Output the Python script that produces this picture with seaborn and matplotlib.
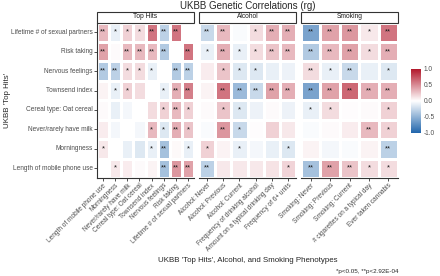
import numpy as np
import pandas as pd
import matplotlib
matplotlib.use("Agg")
import matplotlib.pyplot as plt
import seaborn as sns
from matplotlib.colors import LinearSegmentedColormap
from matplotlib.patches import Rectangle

nan = np.nan

# Filas: fenotipos "Top Hits"
rows = ["Lifetime # of sexual partners", "Risk taking", "Nervous feelings",
        "Townsend index", "Cereal type: Oat cereal", "Never/rarely have milk",
        "Morningness", "Length of mobile phone use"]

tophits_cols = ["Length of mobile phone use", "Morningness", "Never/rarely have milk",
                "Cereal type: Oat cereal", "Townsend index", "Nervous feelings",
                "Risk taking", "Lifetime # of sexual partners"]
alcohol_cols = ["Alcohol: Never", "Alcohol: Previous", "Alcohol: Current",
                "Frequency of drinking alcohol", "Amount on a typical drinking day",
                "Frequency of 6+ units"]
smoking_cols = ["Smoking: Never", "Smoking: Previous", "Smoking: Current",
                "# cigarettes on a typical day", "Ever taken cannabis"]

tophits_rg = [
    [0.30, -0.10, 0.20, 0.15, 0.60, -0.30, 0.60, nan],
    [0.40, 0.02, 0.30, 0.30, 0.30, -0.35, nan, 0.60],
    [-0.35, -0.30, 0.15, 0.15, -0.10, nan, -0.35, -0.30],
    [0.05, -0.10, 0.20, 0.15, nan, -0.10, 0.35, 0.55],
    [0.02, -0.10, -0.05, nan, 0.15, 0.20, 0.30, 0.20],
    [0.08, -0.05, nan, -0.05, 0.30, -0.15, 0.35, 0.25],
    [0.10, nan, -0.10, -0.15, -0.10, -0.40, 0.03, -0.10],
    [nan, 0.10, 0.08, 0.02, 0.05, -0.40, 0.45, 0.40],
]
tophits_sig = [
    ["**", "*", "*", "*", "**", "**", "**", ""],
    ["**", "", "**", "**", "**", "**", "", "**"],
    ["**", "**", "*", "*", "*", "", "**", "**"],
    ["", "*", "*", "", "", "*", "**", "**"],
    ["", "", "", "", "", "*", "**", "*"],
    ["", "", "", "", "*", "*", "**", "*"],
    ["*", "", "", "", "*", "**", "", "*"],
    ["", "*", "", "", "", "**", "**", "**"],
]

alcohol_rg = [
    [-0.25, 0.30, -0.03, 0.15, 0.35, 0.35],
    [-0.10, 0.35, -0.10, 0.15, 0.25, 0.30],
    [0.08, 0.25, -0.15, -0.15, -0.10, -0.08],
    [0.05, 0.60, -0.45, -0.25, 0.40, 0.35],
    [0.02, 0.25, -0.15, -0.08, 0.02, -0.08],
    [-0.03, 0.45, -0.25, 0.01, 0.20, 0.10],
    [0.20, 0.05, -0.10, -0.05, -0.10, -0.15],
    [-0.30, 0.10, 0.10, 0.10, 0.12, 0.18],
]
alcohol_sig = [
    ["**", "**", "", "*", "**", "**"],
    ["*", "**", "*", "*", "**", "**"],
    ["", "*", "*", "*", "", ""],
    ["", "**", "**", "**", "**", "**"],
    ["", "*", "*", "", "", ""],
    ["", "**", "*", "", "", ""],
    ["*", "", "*", "", "", "*"],
    ["**", "", "", "", "", "*"],
]

smoking_rg = [
    [-0.60, 0.40, 0.45, 0.10, 0.60],
    [-0.35, 0.30, 0.40, 0.15, 0.35],
    [0.15, -0.10, -0.25, -0.10, -0.15],
    [-0.60, 0.40, 0.65, 0.35, 0.35],
    [-0.10, 0.15, 0.01, 0.02, 0.20],
    [-0.03, 0.02, 0.08, 0.30, 0.20],
    [0.05, -0.05, -0.03, 0.05, -0.30],
    [-0.40, 0.40, 0.25, 0.15, 0.15],
]
smoking_sig = [
    ["**", "**", "**", "*", "**"],
    ["**", "**", "**", "*", "**"],
    ["**", "*", "**", "", "*"],
    ["**", "**", "**", "**", "**"],
    ["*", "*", "", "", "*"],
    ["", "", "", "**", "*"],
    ["", "", "", "", "**"],
    ["**", "**", "**", "*", "*"],
]

sns.set_style("white")
plt.rcParams['font.family'] = ['Liberation Sans', 'DejaVu Sans']

cmap = LinearSegmentedColormap.from_list("rg", ["#2166AC", "#FFFFFF", "#B2182B"])

W, H = 440, 276
fig = plt.figure(figsize=(W / 100, H / 100), dpi=100)


def px_axes(x0, y0, x1, y1):
    return fig.add_axes([x0 / W, 1 - y1 / H, (x1 - x0) / W, (y1 - y0) / H])


panels = [
    ("Top Hits", tophits_cols, tophits_rg, tophits_sig, 97, 194),
    ("Alcohol", alcohol_cols, alcohol_rg, alcohol_sig, 199, 296),
    ("Smoking", smoking_cols, smoking_rg, smoking_sig, 301, 398),
]
top, bottom = 22.5, 178
cax = px_axes(411, 69, 421, 133)

for i, (name, cols, rg, sig, x0, x1) in enumerate(panels):
    ax = px_axes(x0, top, x1, bottom)
    df = pd.DataFrame(rg, index=rows, columns=cols)
    annot = np.array(sig)
    last = i == len(panels) - 1
    sns.heatmap(df, ax=ax, cmap=cmap, vmin=-1, vmax=1, center=0,
                annot=annot, fmt="", annot_kws={"size": 5.5, "color": "#1A1A1A"},
                linewidths=2, linecolor="white", xticklabels=True, yticklabels=True,
                cbar=last, cbar_ax=cax if last else None)
    ax.spines["bottom"].set_visible(True)
    ax.spines["bottom"].set_color("#333333")
    ax.spines["bottom"].set_linewidth(0.8)
    ax.set_xticklabels(cols, rotation=45, ha="right", rotation_mode="anchor",
                       fontsize=4.7, color="#4D4D4D")
    ax.tick_params(axis="x", length=2, width=0.6, color="#333333", pad=1, bottom=True)
    if i == 0:
        ax.spines["left"].set_visible(True)
        ax.spines["left"].set_color("#333333")
        ax.spines["left"].set_linewidth(0.8)
        ax.set_yticklabels(rows, rotation=0, fontsize=4.7, color="#4D4D4D")
        ax.tick_params(axis="y", length=2, width=0.6, color="#333333", pad=1, left=True)
    else:
        ax.set_yticks([])
    ax.set_xlabel("")
    ax.set_ylabel("")
    # caja del facet
    h = 11 / (bottom - top)
    ax.add_patch(Rectangle((0, 1), 1, h, transform=ax.transAxes, clip_on=False,
                           facecolor="white", edgecolor="#333333", lw=0.8))
    ax.text(0.5, 1 + h / 2, name, transform=ax.transAxes, ha="center", va="center",
            fontsize=4.8, color="#1A1A1A")

cax.tick_params(labelsize=4.7, labelcolor="#4D4D4D", length=0, pad=2)
cax.set_yticks([-1, -0.5, 0, 0.5, 1])
cax.set_yticklabels(["-1.0", "-0.5", "0.0", "0.5", "1.0"])
for s in cax.spines.values():
    s.set_visible(False)

fig.text(247.5 / W, 1 - 6 / H, "UKBB Genetic Correlations (rg)", ha="center", va="center",
         fontsize=7)
fig.text(247.5 / W, 1 - 260 / H, "UKBB 'Top Hits', Alcohol, and Smoking Phenotypes",
         ha="center", va="center", fontsize=5.7)
fig.text(8 / W, 1 - 100 / H, "UKBB 'Top Hits'", rotation=90, ha="center", va="center",
         fontsize=5.7)
fig.text(398 / W, 1 - 272 / H, "*p<0.05, **p<2.92E-04", ha="right", va="center",
         fontsize=4.5)

fig.savefig("out.png", dpi=100)
